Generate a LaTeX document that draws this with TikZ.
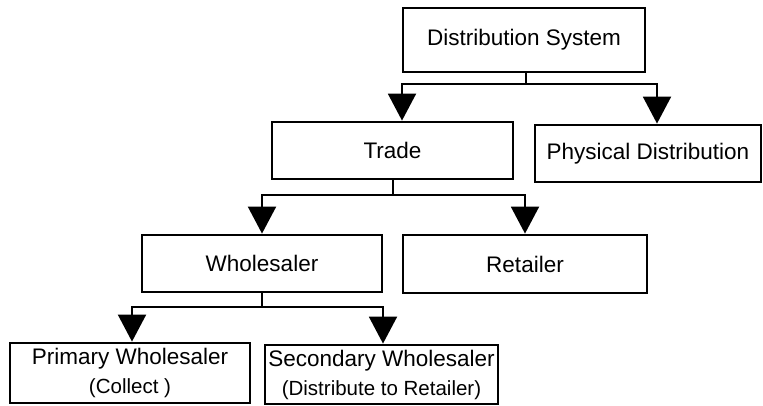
\documentclass[tikz,border=0pt]{standalone}
\usepackage{fontspec}
\setmainfont{Liberation Sans}
\usetikzlibrary{arrows.meta}
\tikzset{
  box/.style={draw, line width=2.8pt, rectangle, inner sep=0pt, align=center,
    font=\fontsize{22.5}{29}\selectfont},
  conn/.style={line width=2pt},
  arr/.style={conn, -{Triangle[width=28pt,length=27pt]}}
}
\newcommand{\subline}[1]{{\fontsize{20.5}{29}\selectfont #1}}
\begin{document}
\begin{tikzpicture}[x=1pt,y=-1pt]
\useasboundingbox (0,0) rectangle (763,406);
\node[box, minimum width=242pt, minimum height=64pt] (ds) at (524,40) {\raisebox{-2pt}{Distribution System}};
\node[box, minimum width=241pt, minimum height=57pt] (trade) at (392.5,150.5) {Trade};
\node[box, minimum width=226pt, minimum height=57pt] (pd) at (648,153.5) {Physical Distribution};
\node[box, minimum width=240pt, minimum height=57pt] (whole) at (262,263.5) {Wholesaler};
\node[box, minimum width=244pt, minimum height=58pt] (ret) at (525,264) {Retailer};
\node[box, minimum width=240pt, minimum height=60pt] (prim) at (130,373) {Primary Wholesaler\\\subline{(Collect )}};
\node[box, minimum width=233pt, minimum height=59pt] (sec) at (381.5,374.5) {Secondary Wholesaler\\\subline{(Distribute to Retailer)}};
% level 1
\draw[conn] ([xshift=2pt]ds.south) -- ++(0,11) coordinate (j1);
\draw[arr] (j1) -| ([xshift=9.5pt]trade.north);
\draw[arr] (j1) -| ([xshift=9pt]pd.north);
% level 2
\draw[conn] (trade.south) -- ++(0,15) coordinate (j2);
\draw[arr] (j2) -| (whole.north);
\draw[arr] (j2) -| (ret.north);
% level 3
\draw[conn] (whole.south) -- ++(0,14) coordinate (j3);
\draw[arr] (j3) -| ([xshift=2pt]prim.north);
\draw[arr] (j3) -| ([xshift=1.5pt]sec.north);
\end{tikzpicture}
\end{document}
